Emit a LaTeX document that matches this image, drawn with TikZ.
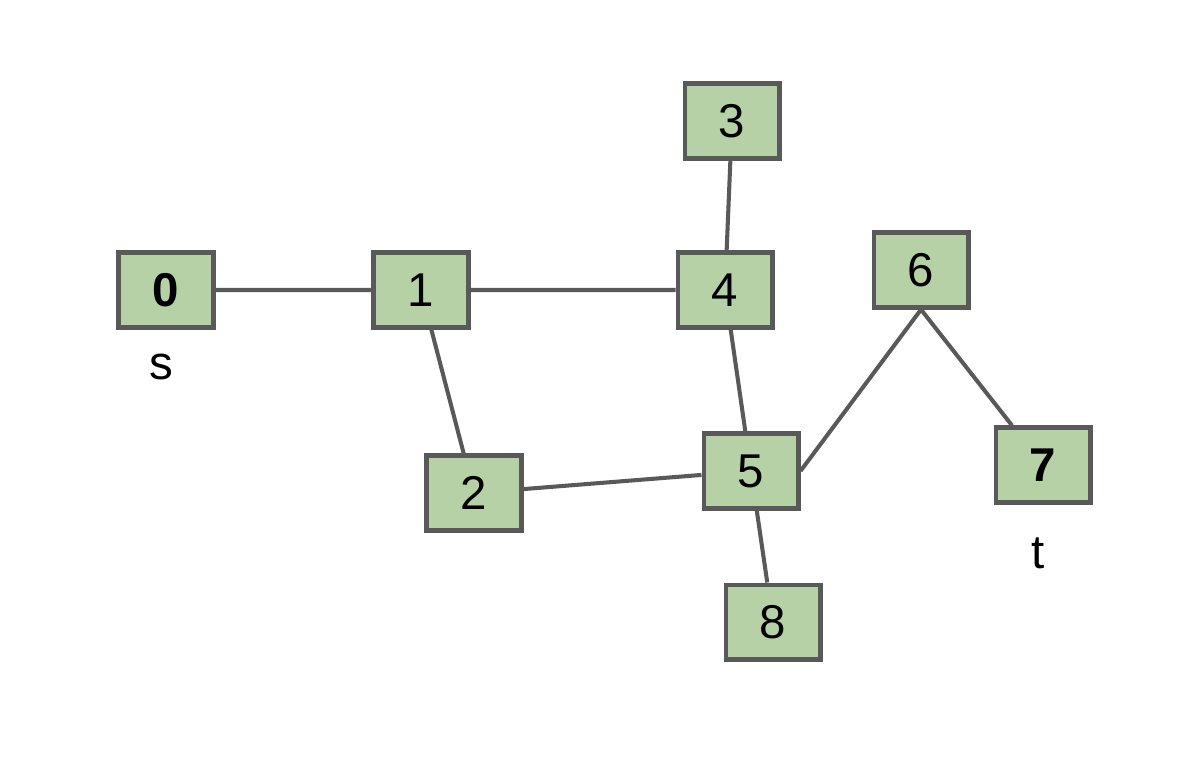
\documentclass[tikz,border=0pt]{standalone}
\usepackage{fontspec}
\setmainfont{Liberation Sans}
\definecolor{boxfill}{HTML}{B5D1A5}
\definecolor{edgegray}{HTML}{595959}
\tikzset{
    vertex/.style={
           rectangle,
           draw=edgegray, line width=2.3pt,
           fill=boxfill,
           minimum width=1.9cm,
           minimum height=1.5cm,
           inner sep=0pt,
           font=\fontsize{27}{30}\selectfont,
           },
    lbl/.style={font=\fontsize{27}{30}\selectfont},
    link/.style={draw=edgegray, line width=2.3pt},
}
\begin{document}
\begin{tikzpicture}[x=0.02cm,y=-0.02cm]
    \useasboundingbox (0,0) rectangle (1202,768);
    % vertices
    \node[vertex] (v0) at (166,290) {\textbf{0}};
    \node[vertex] (v1) at (421,290) {1};
    \node[vertex] (v2) at (474,493) {2};
    \node[vertex] (v3) at (732,121) {3};
    \node[vertex] (v4) at (725,290) {4};
    \node[vertex] (v5) at (751,471) {5};
    \node[vertex] (v6) at (921,270) {6};
    \node[vertex] (v7) at (1043,465) {\textbf{7}};
    \node[vertex] (v8) at (773,622) {8};
    % labels below source and sink
    \node[lbl] (s) at (161,367) {s};
    \node[lbl] (t) at (1038,553) {t};
    % edges
    \path[link]
        (v0) -- (v1)
        (v1) -- (v4)
        (v1) -- (v2)
        (v3) -- (v4)
        (v4) -- (v5)
        (v2) -- (v5)
        (v5.east) -- (v6.south)
        (v6.south) -- (v7)
        (v5) -- (v8);
\end{tikzpicture}
\end{document}
